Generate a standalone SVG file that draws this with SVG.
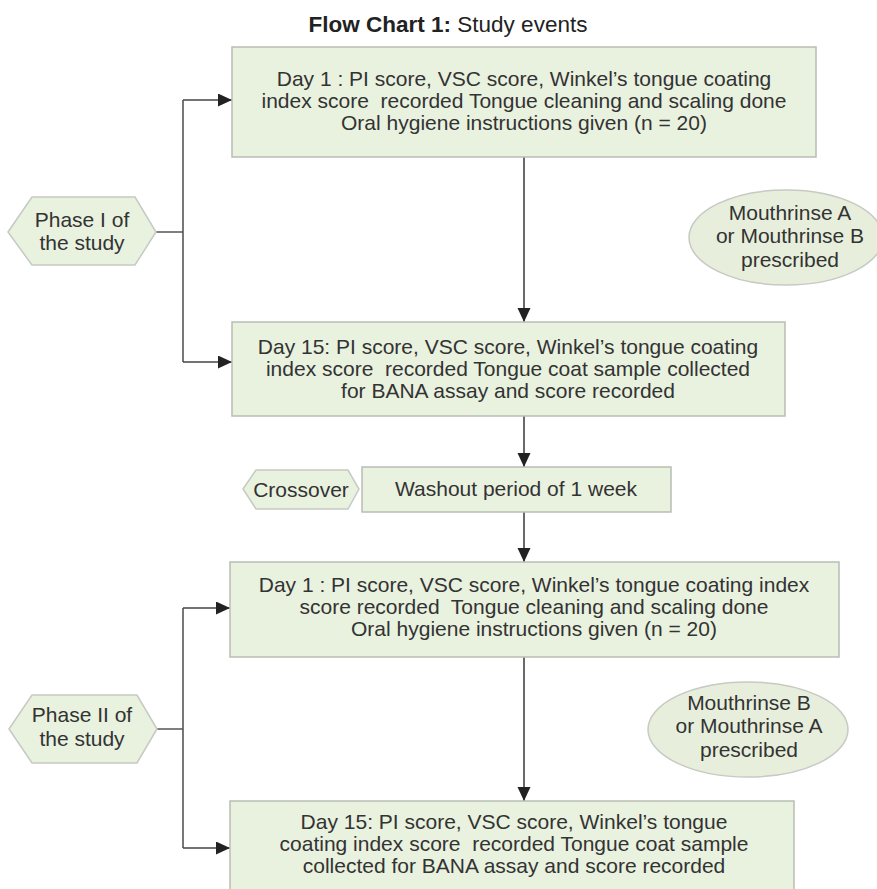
<svg xmlns="http://www.w3.org/2000/svg" width="877" height="889" viewBox="0 0 877 889">
<defs>
<marker id="ah" markerUnits="userSpaceOnUse" markerWidth="15" markerHeight="14" refX="14" refY="6.5" orient="auto">
<path d="M0,0 L14,6.5 L0,13 z" fill="#222"/>
</marker>
<style>
.box{fill:#e9f1df;stroke:#b9bdb4;stroke-width:1.5}
.hex{fill:#e9f1df;stroke:#c6cac2;stroke-width:1.5}
.ell{fill:#e7efdc;stroke:#c6cac2;stroke-width:1.5}
.t{font-family:"Liberation Sans",Arial,sans-serif;font-size:21px;fill:#333;text-anchor:middle}
.c{fill:none;stroke:#555;stroke-width:1.6}
.a{fill:none;stroke:#444;stroke-width:1.6;marker-end:url(#ah)}
</style>
</defs>
<rect width="877" height="889" fill="#fff"/>
<text x="448" y="32" class="t" style="font-size:22.5px;fill:#222"><tspan font-weight="bold">Flow Chart 1:</tspan> Study events</text>

<g id="connectors">
<path class="c" d="M156,232 H183 M183,100 V362"/>
<path class="a" d="M183,100 H232"/>
<path class="a" d="M183,362 H232"/>
<path class="c" d="M157,729 H183 M183,608 V848"/>
<path class="a" d="M183,608 H230"/>
<path class="a" d="M183,848 H230"/>
<path class="a" d="M524,157 V322"/>
<path class="a" d="M524,416 V467"/>
<path class="a" d="M524,512 V562"/>
<path class="a" d="M524,657 V801"/>
</g>

<g id="box1">
<rect class="box" x="232" y="47" width="584" height="110"/>
<text class="t" x="524" y="86">Day 1 : PI score, VSC score, Winkel’s tongue coating</text>
<text class="t" x="524" y="108" xml:space="preserve">index score  recorded Tongue cleaning and scaling done</text>
<text class="t" x="524" y="130">Oral hygiene instructions given (n = 20)</text>
</g>

<g id="phase1">
<polygon class="hex" points="8,232 32,197 135,197 156,232 135,265 32,265"/>
<text class="t" x="82" y="227">Phase I of</text>
<text class="t" x="82" y="250">the study</text>
</g>

<g id="mouthrinse1">
<ellipse class="ell" cx="786" cy="237.5" rx="97" ry="47.5"/>
<text class="t" x="790" y="220">Mouthrinse A</text>
<text class="t" x="790" y="243">or Mouthrinse B</text>
<text class="t" x="790" y="267">prescribed</text>
</g>

<g id="box2">
<rect class="box" x="232" y="322" width="553" height="94"/>
<text class="t" x="508" y="354">Day 15: PI score, VSC score, Winkel’s tongue coating</text>
<text class="t" x="508" y="376" xml:space="preserve">index score  recorded Tongue coat sample collected</text>
<text class="t" x="508" y="398">for BANA assay and score recorded</text>
</g>

<g id="crossover">
<polygon class="hex" points="243,489 256,470 348,470 359,489 348,509 256,509"/>
<text class="t" x="301" y="497">Crossover</text>
</g>

<g id="washout">
<rect class="box" x="362" y="467" width="309" height="45"/>
<text class="t" x="516" y="496">Washout period of 1 week</text>
</g>

<g id="box3">
<rect class="box" x="230" y="562" width="609" height="95"/>
<text class="t" x="534" y="592">Day 1 : PI score, VSC score, Winkel’s tongue coating index</text>
<text class="t" x="534" y="614" xml:space="preserve">score recorded  Tongue cleaning and scaling done</text>
<text class="t" x="534" y="636">Oral hygiene instructions given (n = 20)</text>
</g>

<g id="phase2">
<polygon class="hex" points="9,729 32,695 137,695 157,729 137,763 32,763"/>
<text class="t" x="82" y="722">Phase II of</text>
<text class="t" x="82" y="746">the study</text>
</g>

<g id="mouthrinse2">
<ellipse class="ell" cx="748" cy="729.5" rx="100" ry="47.5"/>
<text class="t" x="749" y="710">Mouthrinse B</text>
<text class="t" x="749" y="733">or Mouthrinse A</text>
<text class="t" x="749" y="757">prescribed</text>
</g>

<g id="box4">
<rect class="box" x="230" y="801" width="564" height="100"/>
<text class="t" x="514" y="829">Day 15: PI score, VSC score, Winkel’s tongue</text>
<text class="t" x="514" y="851" xml:space="preserve">coating index score  recorded Tongue coat sample</text>
<text class="t" x="514" y="873">collected for BANA assay and score recorded</text>
</g>
</svg>
